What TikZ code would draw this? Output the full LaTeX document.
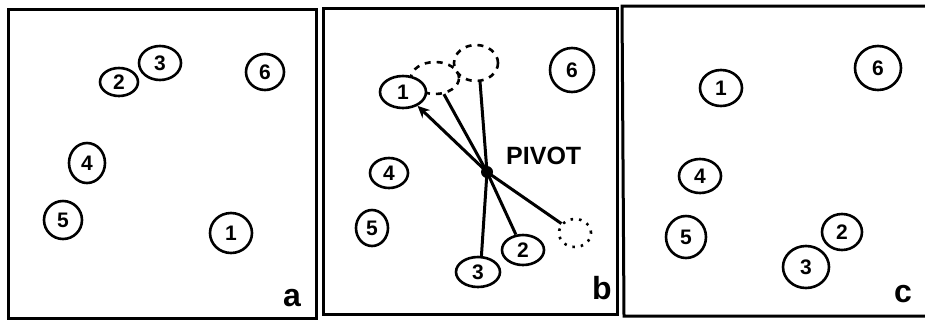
\documentclass[tikz,border=0pt]{standalone}
\usepackage{fontspec}
\setmainfont{Liberation Sans}
\usetikzlibrary{shapes.geometric,arrows.meta}
\begin{document}
\begin{tikzpicture}[x=1pt,y=-1pt,
  ball/.style={draw, ellipse, line width=2.6pt, inner sep=0pt, fill=white,
               font=\fontsize{21}{21}\selectfont\bfseries},
  ghost/.style={draw, ellipse, line width=2.6pt, inner sep=0pt, dash pattern=on 6pt off 6pt},
  dotghost/.style={draw, ellipse, line width=2.6pt, inner sep=0pt, dash pattern=on 2.5pt off 6pt},
  frame/.style={line width=3pt},
  rod/.style={line width=3pt},
  lbl/.style={font=\fontsize{32}{32}\selectfont\bfseries, inner sep=0pt},
  ptxt/.style={font=\fontsize{25}{25}\selectfont\bfseries, inner sep=0pt}]
\useasboundingbox (0,0) rectangle (925,322);

% frames
\draw[frame] (8,9) rectangle (316,318);
\draw[frame] (323,8) rectangle (617,314);
\draw[frame] (925,6) -- (622,6) -- (624,316) -- (925,316);

% panel a
\node[ball, minimum width=38pt, minimum height=28pt] (a2) at (119,82) {2};
\node[ball, minimum width=42pt, minimum height=34pt] (a3) at (160,63) {3};
\node[ball, minimum width=38pt, minimum height=36pt] (a6) at (265,72) {6};
\node[ball, minimum width=36pt, minimum height=40pt] (a4) at (87,163) {4};
\node[ball, minimum width=38pt, minimum height=38pt] (a5) at (63,220) {5};
\node[ball, minimum width=42pt, minimum height=40pt] (a1) at (231,233) {1};
\node[lbl] (la) at (292,298) {a};

% panel b
\node[ghost, minimum width=48pt, minimum height=32pt] (g1) at (435,78) {};
\node[ghost, minimum width=44pt, minimum height=36pt] (g2) at (476,63) {};
\node[dotghost, minimum width=32pt, minimum height=28pt] (g3) at (575,233) {};
\node[ball, minimum width=46pt, minimum height=32pt] (b1) at (403,92) {1};
\node[ball, minimum width=44pt, minimum height=44pt] (b6) at (572,70) {6};
\node[ball, minimum width=38pt, minimum height=30pt] (b4) at (389,173) {4};
\node[ball, minimum width=32pt, minimum height=36pt] (b5) at (372,228) {5};
\node[ball, minimum width=42pt, minimum height=30pt] (b2) at (523,250) {2};
\node[ball, minimum width=44pt, minimum height=30pt] (b3) at (478,272) {3};
\coordinate (p) at (487,172);
\draw[rod,-{Stealth[length=12pt,width=11pt]}] (g3) -- (p) -- (b1);
\draw[rod] (g1) -- (p) -- (b2);
\draw[rod] (g2.282) -- (p) -- (b3.78);
\fill (p) circle (6pt);
\node[ptxt, anchor=west] (pv) at (506,156) {PIVOT};
\node[lbl] (lb) at (602,288) {b};

% panel c
\node[ball, minimum width=42pt, minimum height=36pt] (c1) at (721,88) {1};
\node[ball, minimum width=46pt, minimum height=44pt] (c6) at (878,68) {6};
\node[ball, minimum width=42pt, minimum height=34pt] (c4) at (700,176) {4};
\node[ball, minimum width=40pt, minimum height=42pt] (c5) at (686,237) {5};
\node[ball, minimum width=40pt, minimum height=36pt] (c2) at (842,232) {2};
\node[ball, minimum width=46pt, minimum height=42pt] (c3) at (806,267) {3};
\node[lbl] (lc) at (903,294) {c};
\end{tikzpicture}
\end{document}
